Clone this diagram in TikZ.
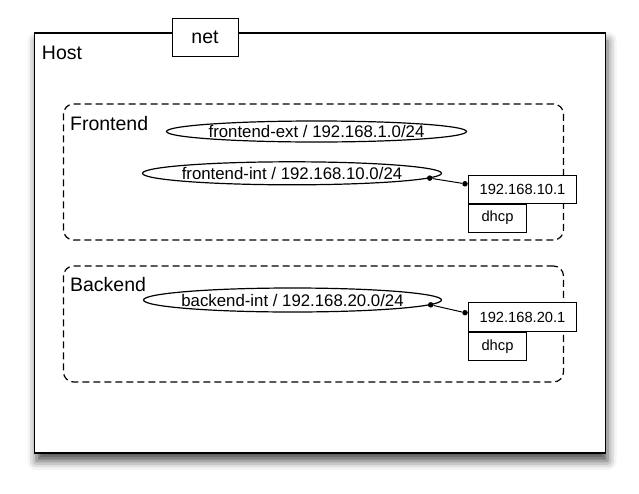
\documentclass[tikz,border=0pt]{standalone}
\usepackage{fontspec}
\setmainfont{Liberation Sans}
\usetikzlibrary{shapes.geometric,shadows.blur,calc}

\tikzset{
  hostbox/.style={draw=black, line width=1.5pt, fill=white,
    blur shadow={shadow xshift=2pt, shadow yshift=-8pt, shadow blur radius=9pt, shadow opacity=70}},
  groupbox/.style={draw=black, line width=1.2pt, dash pattern=on 7pt off 4pt, rounded corners=10pt},
  netellipse/.style={ellipse, draw=black, line width=1.2pt, inner xsep=-25pt, inner ysep=0pt,
    font=\fontsize{16.8}{18}\selectfont},
  ipbox/.style={draw=black, line width=1pt, fill=white, inner sep=0pt, font=\fontsize{14.7}{16}\selectfont},
  title/.style={anchor=base west, inner sep=0pt, font=\fontsize{19.5}{22}\selectfont},
  port/.style={circle, fill=black, inner sep=0pt, minimum size=5.5pt}
}

\begin{document}
\begin{tikzpicture}[x=1pt, y=-1pt]
\useasboundingbox (0,0) rectangle (639,493);

\node[hostbox, minimum width=571pt, minimum height=420pt] (host) at (320,243) {};
\node[ipbox, minimum width=66pt, minimum height=38pt, font=\fontsize{19.5}{22}\selectfont] (net) at (205,37.5) {net};
\node[title] (hostlbl) at ([xshift=8pt, yshift=-27pt]host.north west) {Host};

% frontend
\node[groupbox, minimum width=500pt, minimum height=136pt] (front) at (313.5,172) {};
\node[title] (frontlbl) at ([xshift=7pt, yshift=-27pt]front.north west) {Frontend};
\node[netellipse, minimum width=300pt, minimum height=21pt] (fext) at (316.5,131.5) {frontend-ext / 192.168.1.0/24};
\node[netellipse, minimum width=299pt, minimum height=23pt] (fint) at (292,173.3) {frontend-int / 192.168.10.0/24};
\node[ipbox, minimum width=108pt, minimum height=28pt] (ip10) at (522.5,189) {192.168.10.1};
\node[ipbox, anchor=north west, minimum width=58pt, minimum height=28pt] (dhcp10) at (ip10.south west) {dhcp};
\node[port] (d10a) at (fint.-2) {};
\node[port] (d10b) at ($(ip10.north west)!0.32!(ip10.south west) + (-3,0)$) {};
\path[-, line width=1pt] (d10a) edge (d10b);

% backend
\node[groupbox, minimum width=500pt, minimum height=116pt] (back) at (313.5,324) {};
\node[title] (backlbl) at ([xshift=7pt, yshift=-26pt]back.north west) {Backend};
\node[netellipse, minimum width=298pt, minimum height=24pt] (bint) at (292.5,300) {backend-int / 192.168.20.0/24};
\node[ipbox, minimum width=108pt, minimum height=29pt] (ip20) at (522.5,317.2) {192.168.20.1};
\node[ipbox, anchor=north west, minimum width=58pt, minimum height=28pt] (dhcp20) at (ip20.south west) {dhcp};
\node[port] (d20a) at (bint.-2) {};
\node[port] (d20b) at ($(ip20.north west)!0.35!(ip20.south west) + (-3,0)$) {};
\path[-, line width=1pt] (d20a) edge (d20b);
\end{tikzpicture}
\end{document}
